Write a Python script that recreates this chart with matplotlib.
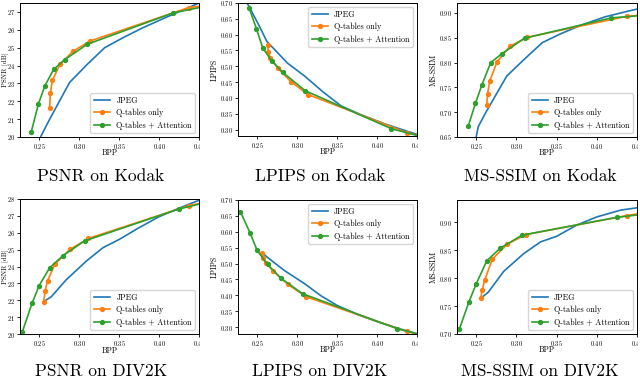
import matplotlib
matplotlib.use('Agg')
import matplotlib.pyplot as plt
from matplotlib.ticker import MultipleLocator
from matplotlib.transforms import Bbox, TransformedBbox

plt.rcParams['font.family'] = 'cmr10'
plt.rcParams['mathtext.fontset'] = 'cm'
plt.rcParams['axes.formatter.use_mathtext'] = True

# ---- Kodak ----
kodak_jpeg_bpp = [0.237, 0.2525, 0.262, 0.288, 0.31, 0.332, 0.355, 0.38, 0.41, 0.44, 0.47]
kodak_jpeg_psnr = [18.7, 20.07, 20.9, 23.05, 24.06, 25.0, 25.56, 26.12, 26.72, 27.3, 27.9]
kodak_jpeg_lpips = [0.702, 0.628, 0.579, 0.51, 0.468, 0.42, 0.375, 0.347, 0.318, 0.293, 0.27]
kodak_jpeg_msssim = [0.55, 0.671, 0.70, 0.773, 0.807, 0.84, 0.858, 0.875, 0.892, 0.904, 0.915]

kodak_qt_bpp = [0.263, 0.264, 0.2665, 0.276, 0.292, 0.3135, 0.437, 0.48]
kodak_qt_psnr = [21.63, 22.45, 23.17, 24.06, 24.79, 25.37, 27.24, 27.47]
kodak_qt_lpips = [0.567, 0.544, 0.526, 0.494, 0.452, 0.411, 0.291, 0.265]
kodak_qt_msssim = [0.715, 0.736, 0.762, 0.802, 0.833, 0.851, 0.893, 0.8996]

kodak_att_bpp = [0.240, 0.249, 0.257, 0.268, 0.282, 0.310, 0.418, 0.48]
kodak_att_psnr = [20.27, 21.84, 22.85, 23.78, 24.33, 25.19, 26.95, 27.51]
kodak_att_lpips = [0.684, 0.619, 0.558, 0.518, 0.481, 0.423, 0.303, 0.262]
kodak_att_msssim = [0.672, 0.718, 0.755, 0.800, 0.818, 0.849, 0.890, 0.8978]

# ---- DIV2K ----
div2k_jpeg_bpp = [0.2565, 0.265, 0.284, 0.309, 0.33, 0.35, 0.375, 0.40, 0.43, 0.47]
div2k_jpeg_psnr = [21.95, 22.2, 23.22, 24.32, 25.12, 25.6, 26.3, 26.95, 27.55, 28.3]
div2k_jpeg_lpips = [0.533, 0.515, 0.478, 0.437, 0.398, 0.368, 0.340, 0.317, 0.293, 0.265]
div2k_jpeg_msssim = [0.765, 0.775, 0.812, 0.844, 0.865, 0.875, 0.895, 0.9097, 0.922, 0.930]

div2k_qt_bpp = [0.2555, 0.2575, 0.2605, 0.270, 0.2885, 0.3115, 0.437, 0.48]
div2k_qt_psnr = [21.87, 22.57, 23.16, 24.16, 25.01, 25.66, 27.6, 28.06]
div2k_qt_lpips = [0.534, 0.518, 0.503, 0.476, 0.434, 0.395, 0.286, 0.259]
div2k_qt_msssim = [0.764, 0.779, 0.797, 0.834, 0.861, 0.878, 0.912, 0.922]

div2k_att_bpp = [0.229, 0.241, 0.250, 0.263, 0.280, 0.307, 0.425, 0.48]
div2k_att_psnr = [20.14, 21.81, 22.87, 23.92, 24.65, 25.52, 27.41, 28.03]
div2k_att_lpips = [0.663, 0.597, 0.541, 0.497, 0.453, 0.4045, 0.295, 0.26]
div2k_att_msssim = [0.709, 0.758, 0.790, 0.831, 0.854, 0.877, 0.909, 0.918]

labels = ['JPEG', 'Q-tables only', 'Q-tables + Attention']
captions = ['PSNR on Kodak', 'LPIPS on Kodak', 'MS-SSIM on Kodak',
            'PSNR on DIV2K', 'LPIPS on DIV2K', 'MS-SSIM on DIV2K']
ylabels = ['PSNR [dB]', 'LPIPS', 'MS-SSIM']

panels = [
    (kodak_jpeg_bpp, kodak_jpeg_psnr, kodak_qt_bpp, kodak_qt_psnr, kodak_att_bpp, kodak_att_psnr),
    (kodak_jpeg_bpp, kodak_jpeg_lpips, kodak_qt_bpp, kodak_qt_lpips, kodak_att_bpp, kodak_att_lpips),
    (kodak_jpeg_bpp, kodak_jpeg_msssim, kodak_qt_bpp, kodak_qt_msssim, kodak_att_bpp, kodak_att_msssim),
    (div2k_jpeg_bpp, div2k_jpeg_psnr, div2k_qt_bpp, div2k_qt_psnr, div2k_att_bpp, div2k_att_psnr),
    (div2k_jpeg_bpp, div2k_jpeg_lpips, div2k_qt_bpp, div2k_qt_lpips, div2k_att_bpp, div2k_att_lpips),
    (div2k_jpeg_bpp, div2k_jpeg_msssim, div2k_qt_bpp, div2k_qt_msssim, div2k_att_bpp, div2k_att_msssim),
]

W, H = 640, 380
# axes boxes in pixels: left, top, right, bottom
boxes = [(20, 3, 199, 137), (238, 3, 417, 136), (457, 3, 637, 137),
         (20, 199, 199, 334), (238, 200, 417, 334), (457, 200, 637, 334)]
ylims = [(20, 27.5), (0.28, 0.70), (0.65, 0.92), (20, 28), (0.278, 0.70), (0.70, 0.94)]
ysteps = [1, 0.05, 0.05, 1, 0.05, 0.05]
ylab_x = [-0.066, -0.106, -0.105, -0.066, -0.106, -0.105]
ylab_size = [5.1, 5.6, 5.6]
legend_loc = ['lower right', 'upper right', 'lower right'] * 2
cap_x = [101, 320, 540]
cap_y = [176, 371]

fig = plt.figure(figsize=(6.4, 3.8), dpi=100)

for i, (jb, jv, qb, qv, ab, av) in enumerate(panels):
    l, t, r, b = boxes[i]
    ax = fig.add_axes([l / W, 1 - b / H, (r - l) / W, (b - t) / H])
    ax.plot(jb, jv, color='C0', lw=1.2, label=labels[0])
    ax.plot(qb, qv, color='C1', lw=1.2, marker='o', ms=2.8, label=labels[1])
    ax.plot(ab, av, color='C2', lw=1.2, marker='o', ms=2.8, label=labels[2])
    ax.set_xlim(0.226, 0.45)
    ax.set_ylim(*ylims[i])
    ax.set_xticks([0.25, 0.30, 0.35, 0.40, 0.45])
    ax.yaxis.set_major_locator(MultipleLocator(ysteps[i]))
    ax.tick_params(labelsize=4.6, length=2, width=0.6, pad=1.5)
    ax.set_xlabel('BPP', fontsize=5.6)
    ax.set_ylabel(ylabels[i % 3], fontsize=ylab_size[i % 3])
    ax.xaxis.set_label_coords(0.5, -0.09)
    ax.yaxis.set_label_coords(ylab_x[i], 0.5)
    for s in ax.spines.values():
        s.set_linewidth(0.7)
    ax.legend(loc=legend_loc[i], fontsize=5.8)
    # the last tick label is cut at the right border, as in the source
    clip = TransformedBbox(Bbox([[-1.0, -1.0], [1.005, 2.0]]), ax.transAxes)
    for lab in ax.get_xticklabels():
        lab.set_clip_box(clip)
        lab.set_clip_on(True)
    fig.text(cap_x[i % 3] / W, 1 - cap_y[i // 3] / H, captions[i],
             ha='center', va='center', fontsize=12.5)

fig.savefig('out.png', dpi=100)
